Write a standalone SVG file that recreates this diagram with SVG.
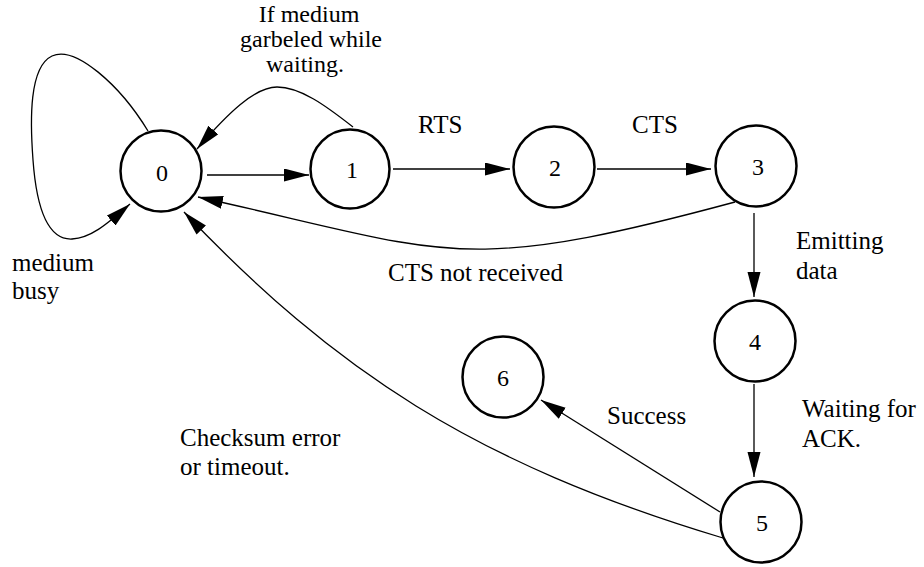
<svg xmlns="http://www.w3.org/2000/svg" width="924" height="567" viewBox="0 0 924 567">
<style>
  .node circle { fill: #fff; stroke: #000; stroke-width: 2.5; }
  .node text { font-size: 24px; text-anchor: middle; fill: #000; }
  .edge { fill: none; stroke: #000; stroke-width: 1.3; marker-end: url(#arrow); }
  .lbl { font-size: 25px; fill: #000; }
  .top { font-size: 24px; text-anchor: middle; }
  .serif { font-family: "Liberation Serif", "Times New Roman", Times, "Nimbus Roman", "Nimbus Roman No9 L", "Noto Serif", "DejaVu Serif", FreeSerif, Tinos, serif; }
</style>
<defs>
  <marker id="arrow" markerUnits="userSpaceOnUse" markerWidth="26" markerHeight="14" refX="25" refY="6.5" orient="auto">
    <path d="M0,0 L25,6.5 L0,13 z" fill="#000"/>
  </marker>
</defs>
<rect width="924" height="567" fill="#fff"/>
<g id="connectors">
  <path class="edge" d="M148,131 C120,85 75,45 52,56 C29,67 30,120 33,160 C37,215 50,240 72,239 C90,238 105,226 130,204"/>
  <path class="edge" d="M353,127 C325,105 300,87 277,87 C255,87 228,113 197,149"/>
  <path class="edge" d="M207,175 L309,175"/>
  <path class="edge" d="M393,169 L510,169"/>
  <path class="edge" d="M597,169 L711,169"/>
  <path class="edge" d="M735,202 C455,277.6 448,252 198,197"/>
  <path class="edge" d="M754,213 L754,297"/>
  <path class="edge" d="M754,384 L754,477"/>
  <path class="edge" d="M720,512 L541,400"/>
  <path class="edge" d="M723,538 C473,463 334,369.5 184,212"/>
</g>
<g class="serif">
<g id="node0" class="node"><circle cx="161" cy="171" r="40.5"/><text x="162" y="181">0</text></g>
<g id="node1" class="node"><circle cx="350" cy="169" r="39.5"/><text x="352" y="178">1</text></g>
<g id="node2" class="node"><circle cx="554" cy="167" r="40.5"/><text x="555" y="176">2</text></g>
<g id="node3" class="node"><circle cx="756" cy="166" r="40.5"/><text x="758" y="175">3</text></g>
<g id="node4" class="node"><circle cx="755" cy="341" r="40.5"/><text x="755" y="350">4</text></g>
<g id="node5" class="node"><circle cx="761" cy="522" r="40.5"/><text x="762" y="531">5</text></g>
<g id="node6" class="node"><circle cx="503" cy="377" r="40.5"/><text x="503" y="386">6</text></g>
<g id="labels">
  <text class="lbl top" x="309" y="22">If medium</text>
  <text class="lbl top" x="311" y="47">garbeled while</text>
  <text class="lbl top" x="305" y="72">waiting.</text>
  <text class="lbl" x="418" y="133">RTS</text>
  <text class="lbl" x="632" y="133">CTS</text>
  <text class="lbl" x="388" y="281">CTS not received</text>
  <text class="lbl" x="796" y="249">Emitting</text>
  <text class="lbl" x="796" y="279">data</text>
  <text class="lbl" x="12" y="271">medium</text>
  <text class="lbl" x="12" y="299">busy</text>
  <text class="lbl" x="802" y="417">Waiting for</text>
  <text class="lbl" x="802" y="447">ACK.</text>
  <text class="lbl" x="607" y="424">Success</text>
  <text class="lbl" x="180" y="446">Checksum error</text>
  <text class="lbl" x="180" y="475">or timeout.</text>
</g>
</g>
</svg>
